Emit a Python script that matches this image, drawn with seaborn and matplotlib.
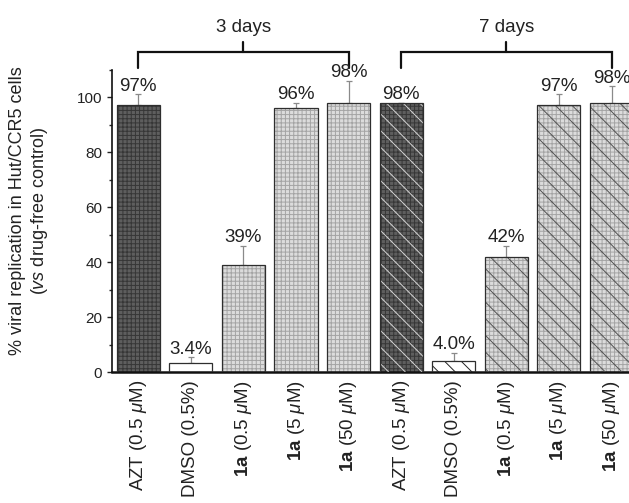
import numpy as np
import matplotlib
matplotlib.use("Agg")
import matplotlib.pyplot as plt
from matplotlib.ticker import MultipleLocator
import seaborn as sns

# --- data ---
days = ["3 days", "7 days"]
treatments = ["AZT (0.5 $\\mu$M)", "DMSO (0.5%)", "$\\mathbf{1a}$ (0.5 $\\mu$M)",
              "$\\mathbf{1a}$ (5 $\\mu$M)", "$\\mathbf{1a}$ (50 $\\mu$M)"]
replication_3d = [97, 3.4, 39, 96, 98]
replication_7d = [98, 4.0, 42, 97, 98]
error_3d = [4, 2, 7, 2, 8]
error_7d = [0, 3, 4, 4, 6]

# --- style ---
sns.set_style("ticks")
plt.rcParams['font.family'] = ['Liberation Sans', 'DejaVu Sans']
plt.rcParams['mathtext.fontset'] = 'custom'
plt.rcParams['mathtext.rm'] = 'Liberation Sans'
plt.rcParams['mathtext.it'] = 'Liberation Sans:italic'
plt.rcParams['mathtext.bf'] = 'Liberation Sans:bold'
plt.rcParams['hatch.linewidth'] = 0.7

face_colors = ['#5e5e5e', '#ffffff', '#dcdcdc', '#dcdcdc', '#dcdcdc']
grid_colors = ['#363636', None, '#a4a4a4', '#a4a4a4', '#a4a4a4']
diag_colors = ['#d4d4d4', '#222222', '#505050', '#505050', '#505050']
text_color = '#222222'

keys = [f"{d}|{t}" for d in days for t in treatments]
values = replication_3d + replication_7d
errors = error_3d + error_7d
n = len(treatments)

fig = plt.figure(figsize=(6.29, 5.03), dpi=100)
ax = fig.add_axes([0.178, 0.2604, 0.836, 0.6014])

# layer 1: grey fill + fine grid
sns.barplot(x=keys, y=values, color='white', width=0.82, errorbar=None, ax=ax, zorder=2)
base = list(ax.patches)
for i, p in enumerate(base):
    p.set_facecolor(face_colors[i % n])
    g = grid_colors[i % n]
    if g is not None:
        p.set_edgecolor(g)
        p.set_hatch('++++')
    p.set_linewidth(0)

# layer 2: diagonal lines on the 7-day bars
sns.barplot(x=keys, y=values, fill=False, width=0.82, errorbar=None, ax=ax, zorder=3)
diag = list(ax.patches)[len(base):]
for i, p in enumerate(diag):
    p.set_linewidth(0)
    if i >= n:
        p.set_edgecolor(diag_colors[i % n])
        p.set_hatch('\\\\')

# layer 3: outlines
sns.barplot(x=keys, y=values, fill=False, width=0.82, errorbar=None, ax=ax, zorder=4)
outline = list(ax.patches)[len(base) + len(diag):]
for p in outline:
    p.set_edgecolor('#2e2e2e')
    p.set_linewidth(0.9)

# error bars (upper only) and value labels
xpos = np.arange(len(keys))
ax.errorbar(xpos, values, yerr=[np.zeros(len(errors)), errors], fmt='none',
            ecolor='#8a8a8a', elinewidth=0.9, capsize=2.3, capthick=0.9, zorder=1)
for x, v, e in zip(xpos, values, errors):
    lab = f"{v:.1f}%" if v < 10 else f"{v:.0f}%"
    ax.annotate(lab, (x, v + e), xytext=(0, 2.5), textcoords='offset points',
                ha='center', va='baseline', fontsize=13.5, color=text_color)

ax.set_xlim(-0.5, len(keys) - 0.5)
ax.set_ylim(0, 110)
ax.yaxis.set_major_locator(MultipleLocator(20))
ax.yaxis.set_minor_locator(MultipleLocator(10))
ax.tick_params(axis='y', which='major', length=3.5, width=1, labelsize=11,
               direction='out', colors=text_color)
ax.tick_params(axis='y', which='minor', length=2.2, width=1, direction='out')
ax.tick_params(axis='x', length=0, pad=6)
ax.set_xticks(xpos)
ax.set_xticklabels(treatments * 2, rotation=90, fontsize=13.5, color=text_color,
                   ha='center', va='top')

ax.set_ylabel("% viral replication in Hut/CCR5 cells\n($\\it{vs}$ drug-free control)",
              fontsize=13, color=text_color, linespacing=1.2)
ax.yaxis.set_label_coords(-0.118, 0.532)

sns.despine(ax=ax)
ax.spines['left'].set_linewidth(1.2)
ax.spines['bottom'].set_linewidth(1.8)
ax.spines['left'].set_color('#111111')
ax.spines['bottom'].set_color('#111111')

# group brackets above the bars
trans = ax.get_xaxis_transform()
for gi, day in enumerate(days):
    x0, x1 = gi * n, gi * n + n - 1
    mid = (x0 + x1) / 2
    ax.plot([x0, x0, x1, x1], [1.005, 1.058, 1.058, 1.005], transform=trans,
            clip_on=False, color='#111111', lw=1.6, solid_joinstyle='miter')
    ax.plot([mid, mid], [1.058, 1.091], transform=trans, clip_on=False,
            color='#111111', lw=1.6)
    ax.text(mid, 1.124, day, transform=trans, ha='center', va='baseline',
            fontsize=13.5, color=text_color)

fig.savefig("out.png", dpi=100)
